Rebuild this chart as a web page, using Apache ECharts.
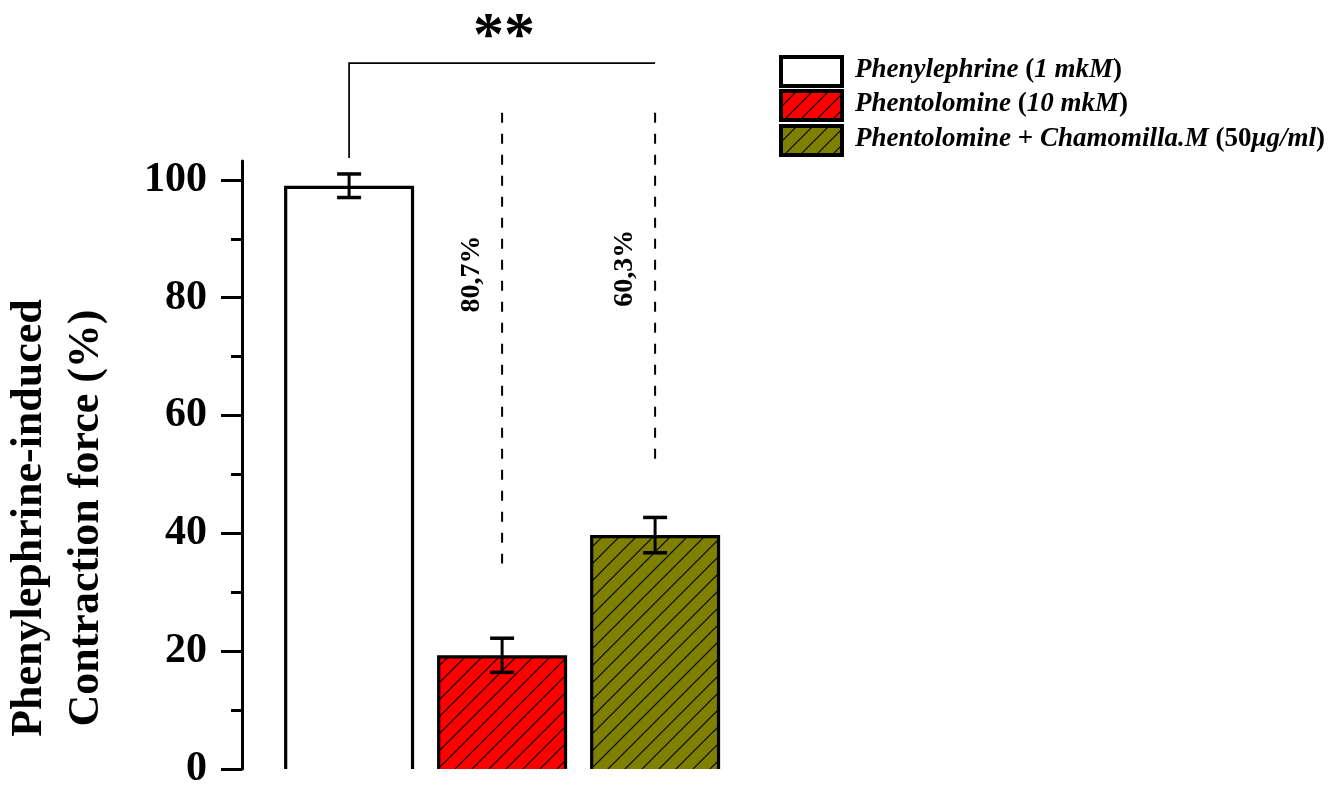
<!DOCTYPE html>
<html>
<head>
<meta charset="utf-8">
<script src="https://cdn.jsdelivr.net/npm/echarts@6/dist/echarts.min.js"></script>
<style>
html,body{margin:0;padding:0;background:#fff;}
#chart{width:1331px;height:790px;}
</style>
</head>
<body>
<div id="chart"></div>
<script>
// ---- data ----
const categories = ['Phenylephrine (1 mkM)', 'Phentolomine (10 mkM)', 'Phentolomine + Chamomilla.M (50μg/ml)'];
const catPos = [1, 2, 3];
const means = [99.0, 19.3, 39.7];
const errors = [2.0, 2.9, 3.0];
const yTicks = [0, 20, 40, 60, 80, 100];
const yMinorTicks = [10, 30, 50, 70, 90];
const yLabels = ['0', '20', '40', '60', '80', '100'];
const dashCats = [2, 3];
const dashTop = [111.4, 111.4];
const dashBottom = [34.9, 52.5];
const pctLabels = ['80,7%', '60,3%'];
const pctLabelY = [84, 85];
const bracketFrom = 1, bracketTo = 3;
const bracketLow = 103.7, bracketHigh = 119.8;
const sigText = '**';
const axisTitle = ['Phenylephrine-induced', 'Contraction force (%)'];

// ---- styles ----
const FONT = '"Liberation Serif", "Times New Roman", serif';
const barFillBase = ['#ffffff', '#ff0000', '#808000'];
const barHatched = [false, true, true];

function makeHatch(bg, p, lw) {
  const c = document.createElement('canvas');
  c.width = p; c.height = p;
  const g = c.getContext('2d');
  g.fillStyle = bg; g.fillRect(0, 0, p, p);
  g.strokeStyle = '#000'; g.lineWidth = lw;
  g.beginPath();
  g.moveTo(-2, p + 2); g.lineTo(p + 2, -2);
  g.moveTo(-2, 2); g.lineTo(2, -2);
  g.moveTo(p - 2, p + 2); g.lineTo(p + 2, p - 2);
  g.stroke();
  return c;
}
const fills = barFillBase.map((c, i) => barHatched[i] ? { image: makeHatch(c, 17, 1.2), repeat: 'repeat' } : c);
const legendFills = barFillBase.map((c, i) => barHatched[i] ? { image: makeHatch(c, 16, 1.2), repeat: 'repeat' } : c);

const barWidth = 0.85;

const chart = echarts.init(document.getElementById('chart'));

const barData = catPos.map((x, i) => [x, means[i], errors[i], i]);

const legendRowsY = [70, 104, 139];
const legendTexts = [
  '{i|Phenylephrine }{n|(}{i|1 mkM}{n|)}',
  '{i|Phentolomine }{n|(}{i|10 mkM}{n|)}',
  '{i|Phentolomine }{n|+ }{i|Chamomilla.M }{n|(50}{i|μg/ml}{n|)}'
];
const legendRich = {
  i: { fontStyle: 'italic', fontWeight: 'bold', fontSize: 27, fontFamily: FONT, fill: '#000' },
  n: { fontWeight: 'bold', fontSize: 27, fontFamily: FONT, fill: '#000' }
};
const legendGraphics = [];
categories.forEach((name, i) => {
  legendGraphics.push({
    type: 'rect', left: 779, top: legendRowsY[i] - 15,
    shape: { x: 0, y: 0, width: 61, height: 29 },
    style: { fill: legendFills[i], stroke: '#000', lineWidth: 4 }
  });
  legendGraphics.push({
    type: 'text', x: 855, y: legendRowsY[i],
    style: { text: legendTexts[i], rich: legendRich, verticalAlign: 'middle', align: 'left', fontSize: 27, fontFamily: FONT }
  });
});
legendGraphics.push({
  type: 'text', x: 58, y: 518, rotation: Math.PI / 2,
  style: {
    text: axisTitle.join('\n'), fontSize: 44, fontWeight: 'bold', fontFamily: FONT,
    fill: '#000', align: 'center', verticalAlign: 'middle', lineHeight: 57
  }
});

const option = {
  backgroundColor: '#fff',
  animation: false,
  grid: { left: 242, right: 599.4, top: 161, bottom: 20, containLabel: false },
  xAxis: { type: 'value', min: 0.3, max: 3.5, show: false },
  yAxis: [
    {
      type: 'value', min: 0, max: 103.2, position: 'left',
      axisLine: { show: true, lineStyle: { color: '#000', width: 3 } },
      axisTick: { show: true, inside: false, length: 21, lineStyle: { color: '#000', width: 3 }, customValues: yTicks },
      axisLabel: {
        customValues: yTicks, margin: 35, fontSize: 42, fontWeight: 'bold', fontFamily: FONT, color: '#000',
        formatter: v => yLabels[yTicks.indexOf(v)] !== undefined ? yLabels[yTicks.indexOf(v)] : ''
      },
      splitLine: { show: false }
    },
    {
      type: 'value', min: 0, max: 103.2, position: 'left', offset: 0,
      axisLine: { show: false },
      axisTick: { show: true, inside: false, length: 11, lineStyle: { color: '#000', width: 3 }, customValues: yMinorTicks },
      axisLabel: { show: false, customValues: yMinorTicks },
      splitLine: { show: false }
    }
  ],
  graphic: legendGraphics,
  series: [
    {
      type: 'custom', name: 'bars', clip: false, yAxisIndex: 0,
      data: barData,
      renderItem: function (params, api) {
        const x = api.value(0), v = api.value(1), e = api.value(2), idx = api.value(3);
        const pl = api.coord([x - barWidth / 2, v]);
        const pr = api.coord([x + barWidth / 2, 0]);
        const lw = 3.2;
        const left = pl[0] + lw / 2, right = pr[0] - lw / 2, top = pl[1] + lw / 2, bottom = pr[1];
        const eTop = api.coord([x, v + e]);
        const eBot = api.coord([x, v - e]);
        const cap = 12;
        return {
          type: 'group',
          children: [
            { type: 'rect', shape: { x: left, y: top, width: right - left, height: bottom - top }, style: { fill: fills[idx], stroke: null } },
            { type: 'polyline', shape: { points: [[left, bottom], [left, top], [right, top], [right, bottom]] }, style: { fill: null, stroke: '#000', lineWidth: lw, lineJoin: 'miter' } },
            { type: 'line', shape: { x1: eTop[0], y1: eTop[1], x2: eBot[0], y2: eBot[1] }, style: { stroke: '#000', lineWidth: 3 } },
            { type: 'line', shape: { x1: eTop[0] - cap, y1: eTop[1], x2: eTop[0] + cap, y2: eTop[1] }, style: { stroke: '#000', lineWidth: 3.5 } },
            { type: 'line', shape: { x1: eBot[0] - cap, y1: eBot[1], x2: eBot[0] + cap, y2: eBot[1] }, style: { stroke: '#000', lineWidth: 3.5 } }
          ]
        };
      }
    },
    {
      type: 'custom', name: 'annotations', clip: false, yAxisIndex: 0,
      data: [[0]],
      silent: true,
      renderItem: function (params, api) {
        const children = [];
        const bl = api.coord([bracketFrom, bracketLow]);
        const bt = api.coord([bracketFrom, bracketHigh]);
        const br = api.coord([bracketTo, bracketHigh]);
        children.push({ type: 'polyline', shape: { points: [bl, bt, br] }, style: { fill: null, stroke: '#000', lineWidth: 1.7 } });
        const mid = api.coord([(bracketFrom + bracketTo) / 2, bracketHigh]);
        children.push({ type: 'text', x: mid[0] + 2, y: mid[1] - 25, style: { text: sigText, fontSize: 62, fontWeight: 'bold', fontFamily: FONT, fill: '#000', align: 'center', verticalAlign: 'middle' } });
        dashCats.forEach((c, i) => {
          const a = api.coord([c, dashTop[i]]);
          const b = api.coord([c, dashBottom[i]]);
          children.push({ type: 'line', shape: { x1: a[0], y1: a[1], x2: b[0], y2: b[1] }, style: { stroke: '#000', lineWidth: 2, lineDash: [10, 11] } });
          const t = api.coord([c, pctLabelY[i]]);
          children.push({ type: 'text', x: t[0] - 30, y: t[1], rotation: Math.PI / 2, style: { text: pctLabels[i], fontSize: 28, fontWeight: 'bold', fontFamily: FONT, fill: '#000', align: 'center', verticalAlign: 'middle' } });
        });
        return { type: 'group', children: children };
      }
    }
  ]
};
chart.setOption(option);
</script>
</body>
</html>
